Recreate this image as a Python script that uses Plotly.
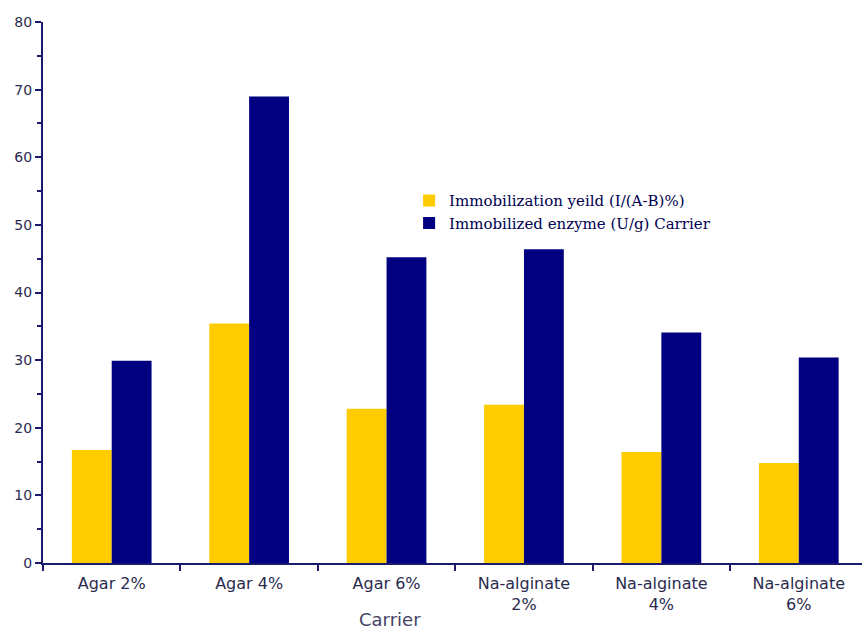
import plotly.graph_objects as go

carriers = ["Agar 2%", "Agar 4%", "Agar 6%", "Na-alginate<br>2%", "Na-alginate<br>4%", "Na-alginate<br>6%"]
yield_pct = [16.7, 35.4, 22.8, 23.4, 16.4, 14.8]
enzyme_ug = [29.9, 69.0, 45.2, 46.4, 34.1, 30.4]

series_names = ["Immobilization yeild (I/(A-B)%)", "Immobilized enzyme (U/g) Carrier"]
y_ticks = list(range(0, 81, 10))
x_title = "Carrier"

axis_color = "#1a1a6e"
label_color = "#2b2b4f"

fig = go.Figure()
fig.add_bar(x=carriers, y=yield_pct, name=series_names[0], marker_color="#FFCC00", marker_line_width=0)
fig.add_bar(x=carriers, y=enzyme_ug, name=series_names[1], marker_color="#000080", marker_line_width=0)

fig.update_layout(
    width=862, height=630,
    margin=dict(l=43, r=0, t=22, b=67),
    paper_bgcolor="white", plot_bgcolor="white",
    barmode="group", bargap=0.42, bargroupgap=0,
    showlegend=True,
    legend=dict(
        x=0.447, y=0.70, xanchor="left", yanchor="top",
        font=dict(family="DejaVu Serif", size=15, color="#000050"),
        bgcolor="rgba(0,0,0,0)", tracegroupgap=0,
    ),
    font=dict(family="DejaVu Sans", size=14, color=label_color),
)

# Axis title placed left of the plot centre
fig.add_annotation(
    text=x_title, xref="paper", yref="paper", x=0.424, y=-0.105,
    xanchor="center", yanchor="middle", showarrow=False,
    font=dict(family="DejaVu Sans", size=18, color="#444466"),
)

fig.update_xaxes(
    range=[-0.5, 5.46],
    showline=True, linecolor=axis_color, linewidth=2,
    ticks="outside", tickson="boundaries", ticklen=6, tickcolor=axis_color, tickwidth=2,
    ticklabelstandoff=5,
    tickfont=dict(family="DejaVu Sans", size=16, color=label_color),
    showgrid=False, zeroline=False,
)

fig.update_yaxes(
    range=[0, 80], tickvals=y_ticks,
    showline=True, linecolor=axis_color, linewidth=2,
    ticks="outside", ticklen=6, tickcolor=axis_color, tickwidth=2,
    minor=dict(dtick=5, ticks="outside", ticklen=4, tickcolor=axis_color, tickwidth=2, showgrid=False),
    tickfont=dict(family="DejaVu Sans", size=14, color=label_color),
    showgrid=False, zeroline=False,
)

fig.write_html("out.html")
